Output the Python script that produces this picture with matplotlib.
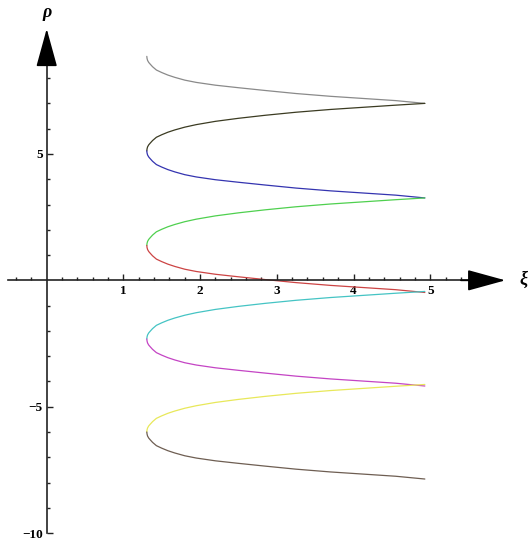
"""Zig-zag curve rho(xi) with Mathematica style arrowed axes"""

import numpy as np
import matplotlib.pyplot as plt
from matplotlib.ticker import FixedLocator

# shape of one branch: xi and distance in rho from the left turn
profile_xi = [1.305, 1.308, 1.315, 1.33, 1.35, 1.38, 1.43, 1.50, 1.58, 1.67,
              1.80, 1.95, 2.20, 2.50, 2.85, 3.25, 3.70, 4.15, 4.55, 4.93]
up_d = [0.0, 0.08, 0.16, 0.24, 0.31, 0.41, 0.54, 0.64, 0.74, 0.83,
        0.94, 1.04, 1.17, 1.29, 1.41, 1.53, 1.64, 1.73, 1.81, 1.88]
down_d = [0.0, 0.08, 0.16, 0.24, 0.31, 0.41, 0.54, 0.64, 0.74, 0.83,
          0.94, 1.03, 1.14, 1.24, 1.35, 1.47, 1.58, 1.67, 1.75, 1.86]

# rho of the left turning points, top to bottom
turn_rho = [8.86, 5.12, 1.38, -2.32, -6.00]

# (turn index, direction, colour) for each coloured piece
pieces = [
    (0, 'down', '#8a8a8a'),
    (1, 'up', '#3b3b22'),
    (1, 'down', '#3434b0'),
    (2, 'up', '#4fd04f'),
    (2, 'down', '#cc4444'),
    (3, 'up', '#45c4c4'),
    (3, 'down', '#c444c4'),
    (4, 'up', '#e8e85a'),
    (4, 'down', '#6e5e52'),
]

x_major = [1, 2, 3, 4, 5]
y_major = [-10, -5, 5]

plt.rcParams['font.family'] = ['Liberation Serif', 'DejaVu Serif']

fig = plt.figure(figsize=(5.3, 5.45), dpi=100)
ax = fig.add_axes([0, 0, 1, 1])
ax.set_xlim(-0.609, 6.301)
ax.set_ylim(-10.47, 11.09)

xi = np.array(profile_xi)
for k, way, col in pieces:
    if way == 'up':
        rho = turn_rho[k] + np.array(up_d)
    else:
        rho = turn_rho[k] - np.array(down_d)
    ax.plot(xi, rho, color=col, lw=0.9, solid_capstyle='round')

# axes through the origin
for s in ['top', 'right']:
    ax.spines[s].set_visible(False)
ax.spines['left'].set_position(('data', 0))
ax.spines['bottom'].set_position(('data', 0))
ax.spines['left'].set_bounds(-10, 9.3)
ax.spines['bottom'].set_bounds(-0.5, 5.5)
for s in ['left', 'bottom']:
    ax.spines[s].set_color('#222222')
    ax.spines[s].set_linewidth(1.2)

ax.xaxis.set_major_locator(FixedLocator(x_major))
ax.xaxis.set_minor_locator(FixedLocator([v / 5 for v in range(-2, 28) if v % 5 != 0]))
ax.yaxis.set_major_locator(FixedLocator(y_major))
ax.yaxis.set_minor_locator(FixedLocator([v for v in range(-9, 10) if v % 5 != 0]))
ax.set_xticklabels([str(v) for v in x_major])
ax.set_yticklabels(['\u221210', '\u22125', '5'])

ax.tick_params(which='both', direction='in', color='#222222', width=1.0,
               labelsize=9.5, pad=3)
ax.tick_params(which='major', length=4.5)
ax.tick_params(which='minor', length=2.5)
for lab in ax.get_xticklabels() + ax.get_yticklabels():
    lab.set_fontweight('bold')

# arrow heads
ax.annotate('', xy=(5.98, 0), xytext=(5.4, 0),
            arrowprops=dict(arrowstyle='-|>,head_length=2.0,head_width=0.55',
                            color='black', lw=1.2, mutation_scale=12, shrinkA=0, shrinkB=0))
ax.annotate('', xy=(0, 9.95), xytext=(0, 9.0),
            arrowprops=dict(arrowstyle='-|>,head_length=2.0,head_width=0.55',
                            color='black', lw=1.2, mutation_scale=12, shrinkA=0, shrinkB=0))

ax.text(0.0, 10.6, '\u03c1', fontsize=13, style='italic', fontweight='bold',
        ha='center', va='center')
ax.text(6.22, 0.05, '\u03be', fontsize=13, style='italic', fontweight='bold',
        ha='center', va='center')

fig.savefig('out.png', dpi=100)
